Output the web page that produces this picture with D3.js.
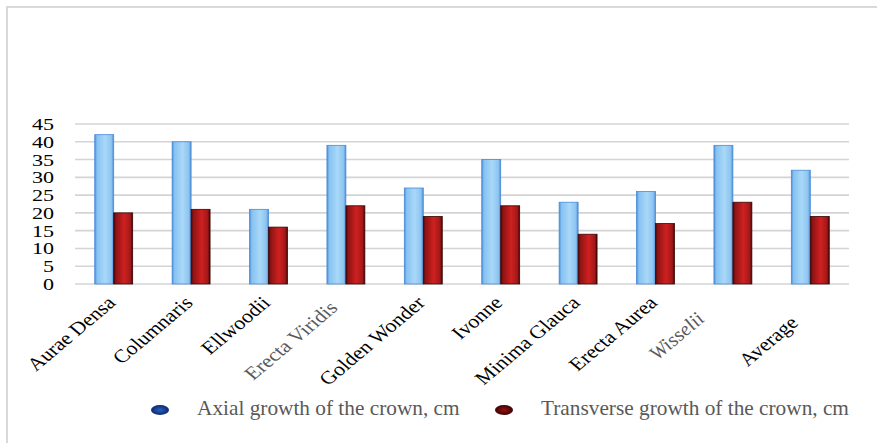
<!DOCTYPE html>
<html>
<head>
<meta charset="utf-8">
<script src="https://cdn.jsdelivr.net/npm/d3@7"></script>
<style>
  body { margin: 0; background: #fff; }
  svg { display: block; font-family: "Liberation Serif", "Times New Roman", serif; }
</style>
</head>
<body>
<div id="chart"></div>
<script>
/**
 * Chart data.
 */
const cultivars = ["Aurae Densa", "Columnaris", "Ellwoodii", "Erecta Viridis", "Golden Wonder",
    "Ivonne", "Minima Glauca", "Erecta Aurea", "Wisselii", "Average"];
const axialGrowth = [42, 40, 21, 39, 27, 35, 23, 26, 39, 32];
const transverseGrowth = [20, 21, 16, 22, 19, 22, 14, 17, 23, 19];
const seriesNames = ["Axial growth of the crown, cm", "Transverse growth of the crown, cm"];
const yTicks = [0, 5, 10, 15, 20, 25, 30, 35, 40, 45];

/**
 * Dimensions.
 */
const Width = 877;
const Height = 443;
const Plot = { left: 75, right: 849, top: 124, bottom: 284 };
// The original picture is a little stretched sideways, text included.
const Stretch = 1.19;

const svg = d3.select("#chart")
    .append("svg")
        .attr("width", Width)
        .attr("height", Height);

// Gradients for the bars and legend markers.
const defs = svg.append("defs");
const addGradient = (id, stops) => {
    const g = defs.append("linearGradient")
        .attr("id", id)
        .attr("x1", "0%").attr("x2", "100%")
        .attr("y1", "0%").attr("y2", "0%");
    stops.forEach(([o, c]) => g.append("stop").attr("offset", o).attr("stop-color", c));
}
addGradient("gradBlue", [["0%", "#4a8cd8"], ["12%", "#86c2f1"], ["55%", "#a9d8f8"], ["88%", "#8cc4f0"], ["100%", "#4a8cd8"]]);
addGradient("gradRed", [["0%", "#4a0606"], ["12%", "#8e1414"], ["55%", "#cf2020"], ["88%", "#a21818"], ["100%", "#3c0505"]]);
const addRadial = (id, inner, outer) => {
    const g = defs.append("radialGradient").attr("id", id);
    g.append("stop").attr("offset", "0%").attr("stop-color", inner);
    g.append("stop").attr("offset", "100%").attr("stop-color", outer);
}
addRadial("legBlue", "#2c5fc0", "#0d2a6e");
addRadial("legRed", "#9a1010", "#3a0404");

// Frame (top and left edges only, as in the original).
svg.append("line")
    .attr("x1", 6).attr("x2", Width).attr("y1", 7).attr("y2", 7)
    .attr("stroke", "#d9d9d9").attr("stroke-width", 2);
svg.append("line")
    .attr("x1", 7).attr("x2", 7).attr("y1", 6).attr("y2", Height)
    .attr("stroke", "#d9d9d9").attr("stroke-width", 2);

// Scales.
const x0 = d3.scaleBand()
    .domain(cultivars)
    .range([Plot.left, Plot.right]);
const x1 = d3.scaleBand()
    .domain([0, 1])
    .range([x0.bandwidth() * 0.255, x0.bandwidth() * 0.745]);
const y = d3.scaleLinear()
    .domain([0, 45])
    .range([Plot.bottom, Plot.top]);

// Gridlines.
svg.append("g")
    .selectAll("line")
    .data(yTicks)
    .join("line")
        .attr("x1", Plot.left)
        .attr("x2", Plot.right)
        .attr("y1", d => y(d))
        .attr("y2", d => y(d))
        .attr("stroke", "#d4d4d4")
        .attr("stroke-width", 1.6);

// Y tick labels.
svg.append("g")
    .selectAll("text")
    .data(yTicks)
    .join("text")
        .attr("transform", d => `translate(54,${y(d)}) scale(1.3,1)`)
        .attr("dy", "0.35em")
        .attr("text-anchor", "end")
        .style("font-size", "17px")
        .attr("fill", "#000")
        .text(d => d);

// Bars.
const rows = cultivars.map((c, i) => ({ c, vals: [axialGrowth[i], transverseGrowth[i]] }));
const groups = svg.append("g")
    .selectAll("g")
    .data(rows)
    .join("g")
        .attr("transform", d => `translate(${x0(d.c)},0)`);
groups.selectAll("rect")
    .data(d => d.vals.map((v, k) => ({ v, k })))
    .join("rect")
        .attr("x", d => x1(d.k))
        .attr("width", x1.bandwidth())
        .attr("y", d => y(d.v))
        .attr("height", d => y(0) - y(d.v))
        .attr("fill", d => d.k === 0 ? "url(#gradBlue)" : "url(#gradRed)")
        .attr("stroke", d => d.k === 0 ? "#4a8ad8" : "#3a0505")
        .attr("stroke-width", 0.8);

// Category labels, rotated.
const labelStyle = {
    "Erecta Viridis": { fill: "#595959", italic: false },
    "Wisselii": { fill: "#595959", italic: true },
};
const labelNudge = { "Erecta Viridis": [-10, 5], "Wisselii": [-30, 16], "Average": [-14, 20] };
svg.append("g")
    .selectAll("text")
    .data(cultivars)
    .join("text")
        .attr("transform", d => {
            const n = labelNudge[d] || [0, 0];
            const cx = x0(d) + x0.bandwidth() / 2 + 3 + n[0];
            return `translate(${cx},${304 + n[1]}) scale(${Stretch},1) rotate(-45)`;
        })
        .attr("text-anchor", "end")
        .style("font-size", "18.5px")
        .style("font-style", d => labelStyle[d] && labelStyle[d].italic ? "italic" : "normal")
        .attr("fill", d => labelStyle[d] ? labelStyle[d].fill : "#000")
        .text(d => d);

// Legend.
const legendX = [160, 504];
const legend = svg.append("g")
    .selectAll("g")
    .data(seriesNames)
    .join("g")
        .attr("transform", (d, i) => `translate(${legendX[i]},410)`);
legend.append("ellipse")
    .attr("rx", 9)
    .attr("ry", 5)
    .attr("fill", (d, i) => i === 0 ? "url(#legBlue)" : "url(#legRed)");
legend.append("text")
    .attr("transform", "translate(37,5) scale(1.065,1)")
    .style("font-size", "20px")
    .attr("fill", "#595959")
    .text(d => d);
</script>
</body>
</html>
